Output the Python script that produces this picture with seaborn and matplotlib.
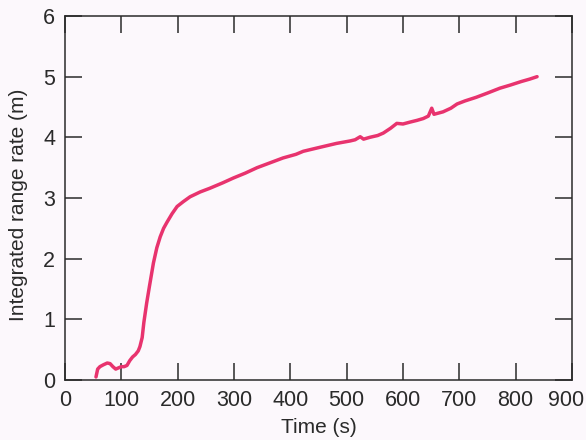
import matplotlib
matplotlib.use("Agg")
import matplotlib.pyplot as plt
import matplotlib.transforms as mtransforms
import seaborn as sns
import pandas as pd

time_s = [55, 58, 62, 68, 75, 80, 85, 90, 95, 100, 105, 110, 115, 120, 125, 130,
          133, 137, 140, 145, 150, 157, 163, 169, 175, 181, 190, 199, 210, 222,
          240, 257, 280, 299, 320, 341, 364, 387, 410, 423, 450, 482, 506, 515,
          524, 530, 541, 555, 565, 578, 589, 600, 612, 625, 636, 645, 651, 655,
          671, 685, 696, 710, 730, 750, 772, 790, 810, 825, 838]
range_m = [0.05, 0.18, 0.22, 0.25, 0.28, 0.27, 0.22, 0.18, 0.20, 0.22, 0.22, 0.24,
           0.32, 0.38, 0.42, 0.48, 0.55, 0.70, 0.95, 1.27, 1.55, 1.93, 2.18, 2.36,
           2.50, 2.60, 2.74, 2.86, 2.94, 3.02, 3.10, 3.16, 3.25, 3.33, 3.41, 3.50,
           3.58, 3.66, 3.72, 3.77, 3.83, 3.90, 3.94, 3.96, 4.01, 3.97, 4.00, 4.03,
           4.07, 4.15, 4.23, 4.22, 4.25, 4.28, 4.31, 4.35, 4.48, 4.38, 4.42, 4.48,
           4.55, 4.60, 4.66, 4.73, 4.81, 4.86, 4.92, 4.96, 5.00]
x_ticks = [0, 100, 200, 300, 400, 500, 600, 700, 800, 900]
y_ticks = [0, 1, 2, 3, 4, 5, 6]

df = pd.DataFrame({"Time (s)": time_s, "Integrated range rate (m)": range_m})

sns.set_theme(style="ticks")
plt.rcParams['font.family'] = ['Liberation Sans Narrow', 'Liberation Sans', 'DejaVu Sans']
bg = '#fcf8fc'
ink = '#2a2a2a'
fig = plt.figure(figsize=(5.86, 4.4), dpi=100, facecolor=bg)
ax = fig.add_axes([65/586, 1-380/440, (572-65)/586, (380-16)/440])
ax.set_facecolor(bg)

sns.lineplot(data=df, x="Time (s)", y="Integrated range rate (m)", ax=ax,
             color='#e8336e', linewidth=2.5, estimator=None, sort=False)

ax.set_xlim(0, 900)
ax.set_ylim(0, 6)
ax.set_xticks(x_ticks)
ax.set_yticks(y_ticks)
for s in ax.spines.values():
    s.set_visible(True)
    s.set_color(ink)
    s.set_linewidth(1.1)
ax.tick_params(direction='in', length=12, width=1.1, color=ink,
               top=True, right=True, labelsize=15.5, labelcolor=ink)
ax.tick_params(axis='x', pad=7)
ax.tick_params(axis='y', pad=7)
ax.set_xlabel("Time (s)", fontsize=15, color=ink, labelpad=5)
ax.set_ylabel("Integrated range rate (m)", fontsize=15, color=ink)
ax.yaxis.set_label_coords((28-65)/507, (380-205)/364)

# nudge the last x tick label so it stays inside the figure
lbl = ax.get_xticklabels()[-1]
lbl.set_transform(lbl.get_transform() +
                  mtransforms.ScaledTranslation(-6/100, 0, fig.dpi_scale_trans))

fig.savefig("out.png", dpi=100, facecolor=bg)
